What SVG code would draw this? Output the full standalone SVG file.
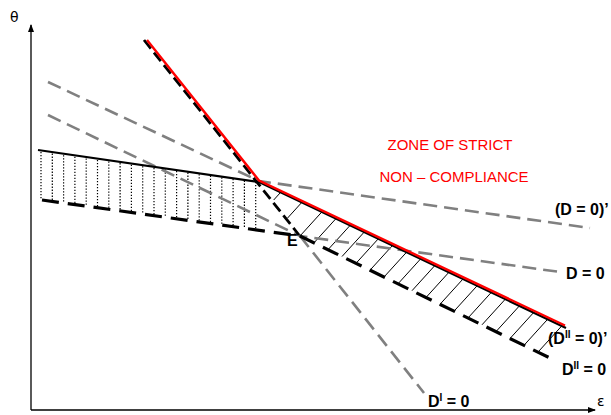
<svg xmlns="http://www.w3.org/2000/svg" width="611" height="415" viewBox="0 0 611 415">
<style>
.ax{stroke:#000;stroke-width:1.3;fill:none}
.gray{stroke:#808080;stroke-width:2.6;fill:none;stroke-dasharray:14 7}
.bd{stroke:#000;stroke-width:2.8;fill:none;stroke-dasharray:11 5}
.bd2{stroke:#000;stroke-width:3.2;fill:none;stroke-dasharray:17 9}
.solid{stroke:#000;stroke-width:2.2;fill:none}
.red{stroke:#ff0000;stroke-width:2.4;fill:none}
.dot{stroke:#000;stroke-width:1.2;stroke-dasharray:1.3 1.7}
.hatch{stroke:#000;stroke-width:1}
.lbl{font-family:"Liberation Sans",Arial,sans-serif;font-weight:bold;font-size:16px;fill:#000}
.zone{font-family:"Liberation Sans",Arial,sans-serif;font-size:15px;fill:#ff0000;text-anchor:middle}
.axl{font-family:"DejaVu Sans","Liberation Sans",sans-serif;font-size:14px;fill:#000}
</style>
<defs>
<marker id="arr" markerWidth="8" markerHeight="8" refX="7" refY="4" orient="auto" markerUnits="userSpaceOnUse">
<path d="M0,1 L8,4 L0,7 Z" fill="#000"/>
</marker>
</defs>
<g id="axes">
<line class="ax" x1="31" y1="410" x2="31" y2="25" marker-end="url(#arr)"/>
<line class="ax" x1="31" y1="410" x2="595" y2="410" marker-end="url(#arr)"/>
<text class="axl" x="10" y="22">θ</text>
<text class="axl" x="597" y="406">ε</text>
</g>
<g id="dotted-zone">
<line class="dot" x1="41" y1="152" x2="41" y2="199.9"/>
<line class="dot" x1="52.3" y1="153.6" x2="52.3" y2="201.4"/>
<line class="dot" x1="63.6" y1="155.2" x2="63.6" y2="203"/>
<line class="dot" x1="74.9" y1="156.8" x2="74.9" y2="204.6"/>
<line class="dot" x1="86.2" y1="158.4" x2="86.2" y2="206.2"/>
<line class="dot" x1="97.5" y1="160" x2="97.5" y2="207.7"/>
<line class="dot" x1="108.8" y1="161.5" x2="108.8" y2="209.3"/>
<line class="dot" x1="120.1" y1="163.1" x2="120.1" y2="210.9"/>
<line class="dot" x1="131.4" y1="164.7" x2="131.4" y2="212.5"/>
<line class="dot" x1="142.7" y1="166.3" x2="142.7" y2="214"/>
<line class="dot" x1="154" y1="167.9" x2="154" y2="215.6"/>
<line class="dot" x1="165.3" y1="169.5" x2="165.3" y2="217.2"/>
<line class="dot" x1="176.6" y1="171" x2="176.6" y2="218.8"/>
<line class="dot" x1="187.9" y1="172.6" x2="187.9" y2="220.3"/>
<line class="dot" x1="199.2" y1="174.2" x2="199.2" y2="221.9"/>
<line class="dot" x1="210.5" y1="175.8" x2="210.5" y2="223.5"/>
<line class="dot" x1="221.8" y1="177.4" x2="221.8" y2="225.1"/>
<line class="dot" x1="233.1" y1="179" x2="233.1" y2="226.6"/>
<line class="dot" x1="244.4" y1="180.6" x2="244.4" y2="228.2"/>
<line class="dot" x1="255.7" y1="182" x2="255.7" y2="229.8"/>
</g>
<g id="hatch-zone">
<line class="hatch" x1="273.7" y1="200" x2="281.3" y2="191.6"/>
<line class="hatch" x1="287.6" y1="218" x2="302.5" y2="201.6"/>
<line class="hatch" x1="300" y1="236" x2="322.6" y2="211.1"/>
<line class="hatch" x1="314" y1="242.8" x2="336.7" y2="217.8"/>
<line class="hatch" x1="328" y1="249.7" x2="350.8" y2="224.6"/>
<line class="hatch" x1="342" y1="256.5" x2="365" y2="231.2"/>
<line class="hatch" x1="356" y1="263.3" x2="379.1" y2="237.9"/>
<line class="hatch" x1="370" y1="270.2" x2="393.2" y2="244.7"/>
<line class="hatch" x1="384" y1="277" x2="407.3" y2="251.4"/>
<line class="hatch" x1="398" y1="283.8" x2="421.5" y2="257.9"/>
<line class="hatch" x1="412" y1="290.7" x2="435.6" y2="264.7"/>
<line class="hatch" x1="426" y1="297.5" x2="449.7" y2="271.4"/>
<line class="hatch" x1="440" y1="304.3" x2="463.8" y2="278.1"/>
<line class="hatch" x1="454" y1="311.2" x2="478" y2="284.8"/>
<line class="hatch" x1="468" y1="318" x2="492.1" y2="291.5"/>
<line class="hatch" x1="482" y1="324.8" x2="506.2" y2="298.2"/>
<line class="hatch" x1="496" y1="331.6" x2="520.3" y2="304.9"/>
<line class="hatch" x1="510" y1="338.5" x2="534.4" y2="311.7"/>
<line class="hatch" x1="524" y1="345.3" x2="548.6" y2="318.2"/>
<line class="hatch" x1="538" y1="352.1" x2="562.7" y2="324.9"/>
</g>
<g id="connectors">
<polyline id="line-D0prime" class="gray" points="48,82 259,181 590,228"/>
<polyline id="line-D0" class="gray" points="48,115 300,236 560,272"/>
<line id="line-DI" class="gray" x1="300" y1="236" x2="424" y2="393"/>
<line id="line-steep-dashed" class="bd" x1="144" y1="40" x2="299" y2="235"/>
<polyline id="line-DII" class="bd2" points="42,200 300,236 555,360.5"/>
<polyline id="line-solid" class="solid" points="38,150 259,182 566,328"/>
<polyline id="line-red" class="red" points="147,40 259,180.5 565,325.5"/>
</g>
<g id="labels">
<text class="lbl" x="287" y="246" font-size="14">E</text>
<text class="lbl" x="555" y="215">(D = 0)’</text>
<text class="lbl" x="566" y="279">D = 0</text>
<text class="lbl" x="548" y="344">(D<tspan font-size="10" dy="-6">II</tspan><tspan dy="6"> = 0)’</tspan></text>
<text class="lbl" x="562" y="375">D<tspan font-size="10" dy="-6">II</tspan><tspan dy="6"> = 0</tspan></text>
<text class="lbl" x="428" y="407">D<tspan font-size="10" dy="-6">I</tspan><tspan dy="6"> = 0</tspan></text>
</g>
<g id="zone-label">
<text class="zone" x="450" y="150">ZONE OF STRICT</text>
<text class="zone" x="454" y="182">NON – COMPLIANCE</text>
</g>
</svg>
